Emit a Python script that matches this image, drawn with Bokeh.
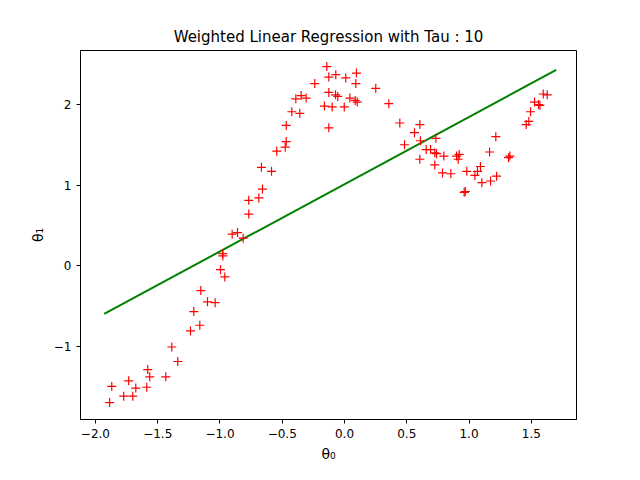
from bokeh.plotting import figure
from bokeh.models import Range1d, FixedTicker
from bokeh.embed import file_html
from bokeh.resources import INLINE

theta0 = [-1.886, -1.869, -1.773, -1.733, -1.700, -1.676, -1.588, -1.580, -1.564, -1.435,
          -1.387, -1.339, -1.237, -1.210, -1.162, -1.154, -1.100, -1.039, -0.996, -0.977,
          -0.977, -0.961, -0.902, -0.859, -0.814, -0.769, -0.769, -0.688, -0.659, -0.667,
          -0.586, -0.544, -0.476, -0.468, -0.468, -0.423, -0.359, -0.391, -0.348, -0.308,
          -0.239, -0.142, -0.126, -0.070, 0.010, 0.096, 0.091, -0.126, -0.072, -0.054,
          0.043, 0.086, 0.102, -0.161, -0.099, -0.002, -0.126, 0.251, 0.356, 0.444,
          0.605, 0.562, 0.482, 0.610, 0.605, 0.656, 0.691, 0.734, 0.725, 0.739,
          0.798, 0.725, 0.787, 0.854, 0.900, 0.921, 0.913, 0.961, 0.970, 0.982,
          1.047, 1.068, 1.092, 1.103, 1.173, 1.221, 1.165, 1.215, 1.317, 1.328,
          1.459, 1.480, 1.494, 1.526, 1.558, 1.569, 1.596, 1.628]
theta1 = [-1.70, -1.50, -1.62, -1.43, -1.62, -1.52, -1.51, -1.29, -1.38, -1.38,
          -1.01, -1.19, -0.81, -0.57, -0.74, -0.31, -0.45, -0.46, -0.05, 0.15,
          0.12, -0.14, 0.39, 0.41, 0.34, 0.64, 0.81, 0.84, 0.95, 1.22,
          1.17, 1.42, 1.47, 1.54, 1.74, 1.91, 1.89, 2.07, 2.11, 2.08,
          2.26, 2.47, 2.34, 2.37, 2.33, 2.39, 2.26, 2.15, 2.12, 2.10,
          2.08, 2.05, 2.03, 1.98, 1.97, 1.97, 1.71, 2.20, 2.01, 1.77,
          1.75, 1.65, 1.50, 1.55, 1.32, 1.44, 1.44, 1.58, 1.40, 1.39,
          1.36, 1.25, 1.15, 1.14, 1.36, 1.38, 1.32, 0.91, 0.92, 1.17,
          1.12, 1.17, 1.23, 1.03, 1.05, 1.11, 1.41, 1.60, 1.34, 1.36,
          1.75, 1.79, 1.91, 2.03, 2.00, 1.99, 2.13, 2.12]

fit_x = [-1.93, 1.70]
fit_y = [-0.60, 2.43]

p = figure(frame_width=496, frame_height=369, output_backend="svg", toolbar_location=None,
           x_range=Range1d(-2.12, 1.863), y_range=Range1d(-1.91, 2.67),
           title="Weighted Linear Regression with Tau : 10",
           min_border_left=80, min_border_right=48, min_border_top=50, min_border_bottom=40)
p.title.align = "center"
p.title.text_font = "DejaVu Sans"
p.title.text_font_size = "15px"
p.title.text_font_style = "normal"
p.title.text_color = "black"
p.outline_line_color = "black"
p.xgrid.visible = False
p.ygrid.visible = False
p.xaxis.ticker = FixedTicker(ticks=[-2.0, -1.5, -1.0, -0.5, 0.0, 0.5, 1.0, 1.5])
p.yaxis.ticker = FixedTicker(ticks=[-1, 0, 1, 2])
p.xaxis.major_label_overrides = {-2.0: "−2.0", -1.5: "−1.5", -1.0: "−1.0", -0.5: "−0.5",
                                 0.0: "0.0", 0.5: "0.5", 1.0: "1.0", 1.5: "1.5"}
p.yaxis.major_label_overrides = {-1: "−1", 0: "0", 1: "1", 2: "2"}
for ax in (p.xaxis, p.yaxis):
    ax.minor_tick_line_color = None
    ax.major_tick_in = 0
    ax.major_tick_out = 4
    ax.axis_line_color = "black"
    ax.major_label_text_font = "DejaVu Sans"
    ax.major_label_text_font_size = "12px"
    ax.major_label_text_color = "black"
    ax.axis_label_text_font = "DejaVu Sans"
    ax.axis_label_text_font_size = "14px"
    ax.axis_label_text_font_style = "normal"
    ax.axis_label_text_color = "black"
p.xaxis.axis_label = "θ₀"
p.yaxis.axis_label = "θ₁"

p.line(fit_x, fit_y, color="green", line_width=2)
p.scatter(theta0, theta1, marker="cross", size=9, color="red", line_width=1.2)

open("out.html", "w").write(file_html(p, INLINE))
